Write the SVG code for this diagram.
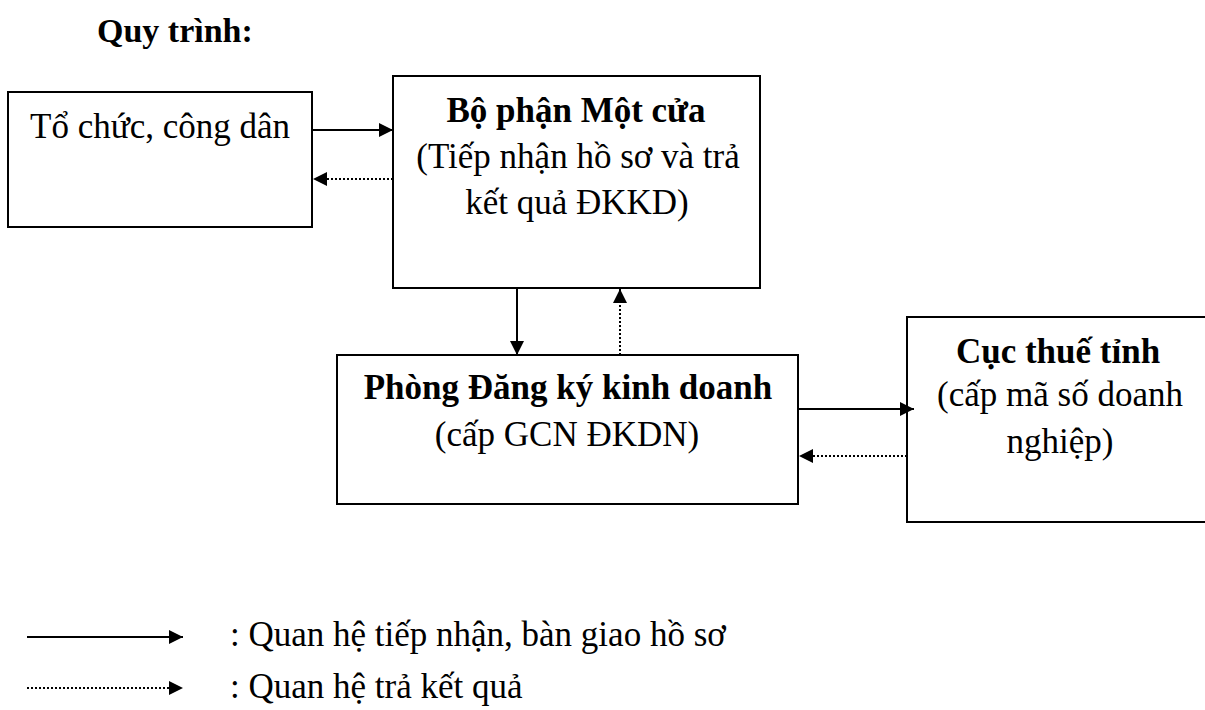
<svg xmlns="http://www.w3.org/2000/svg" width="1205" height="710" viewBox="0 0 1205 710">
<style>
text{font-family:"Liberation Serif","Times New Roman",serif;font-size:35px;fill:#000}
.b{font-weight:bold}
.t{font-size:34px}
.box{fill:#fff;stroke:#000;stroke-width:2}
.s{stroke:#000;stroke-width:2;fill:none}
.d{stroke:#000;stroke-width:2;fill:none;stroke-dasharray:2 2}
</style>
<defs>
<marker id="ah" viewBox="0 0 10 10" refX="10" refY="5" markerWidth="16" markerHeight="14" markerUnits="userSpaceOnUse" orient="auto"><path d="M0,0 L10,5 L0,10 Z" fill="#000"/></marker>
</defs>
<rect width="1205" height="710" fill="#fff"/>
<text class="b t" x="97" y="42">Quy trình:</text>
<g id="to-chuc"><rect class="box" x="8" y="92" width="304" height="135"/><text x="160" y="138" text-anchor="middle">Tổ chức, công dân</text></g>
<g id="mot-cua"><rect class="box" x="393" y="76" width="367" height="212"/><text class="b" x="576" y="122" text-anchor="middle">Bộ phận Một cửa</text><text x="578" y="168" text-anchor="middle">(Tiếp nhận hồ sơ và trả</text><text x="577" y="214" text-anchor="middle">kết quả ĐKKD)</text></g>
<g id="phong-dkkd"><rect class="box" x="337" y="355" width="461" height="149"/><text class="b" x="568" y="399" text-anchor="middle">Phòng Đăng ký kinh doanh</text><text x="567" y="446" text-anchor="middle">(cấp GCN ĐKDN)</text></g>
<g id="cuc-thue"><rect class="box" x="907" y="317" width="310" height="205"/><text class="b" x="1058" y="363" text-anchor="middle">Cục thuế tỉnh</text><text x="1060" y="406" text-anchor="middle">(cấp mã số doanh</text><text x="1060" y="453" text-anchor="middle">nghiệp)</text></g>
<g id="connectors">
<line class="s" x1="312" y1="130" x2="393" y2="130" marker-end="url(#ah)"/>
<line class="d" x1="393" y1="179" x2="313" y2="179" marker-end="url(#ah)"/>
<line class="s" x1="517" y1="288" x2="517" y2="355" marker-end="url(#ah)"/>
<line class="d" x1="620" y1="355" x2="620" y2="289" marker-end="url(#ah)"/>
<line class="s" x1="798" y1="409" x2="914" y2="409" marker-end="url(#ah)"/>
<line class="d" x1="907" y1="456" x2="799" y2="456" marker-end="url(#ah)"/>
</g>
<g id="legend">
<line class="s" x1="27" y1="637" x2="183" y2="637" marker-end="url(#ah)"/>
<line class="d" x1="27" y1="688" x2="183" y2="688" marker-end="url(#ah)"/>
<text x="230" y="646">: Quan hệ tiếp nhận, bàn giao hồ sơ</text>
<text x="230" y="698">: Quan hệ trả kết quả</text>
</g>
</svg>
